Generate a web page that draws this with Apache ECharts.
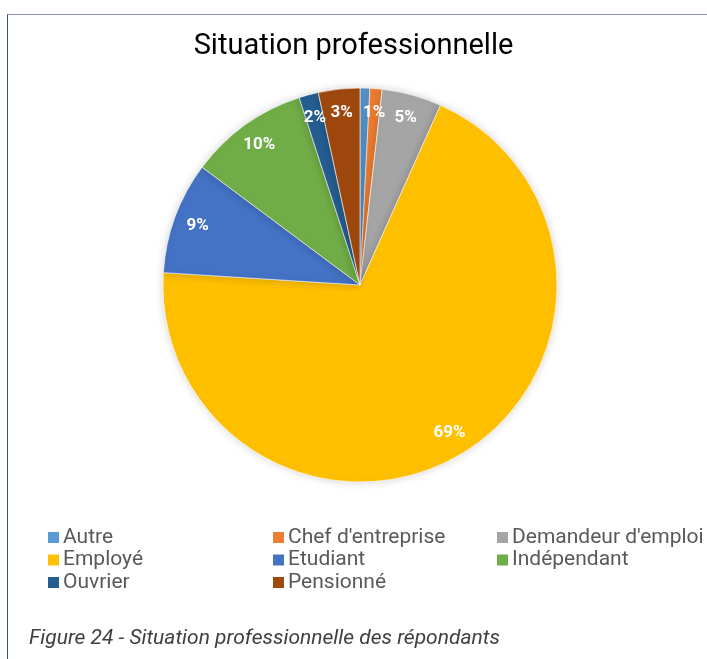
<!DOCTYPE html>
<html>
<head>
<meta charset="utf-8">
<script src="https://cdn.jsdelivr.net/npm/echarts@6/dist/echarts.min.js"></script>
<style>
  html, body { margin: 0; padding: 0; background: #fff; }
  #main { position: absolute; left: 0; top: 0; width: 707px; height: 659px; }
  #frame { position: absolute; left: 7px; top: 14px; width: 700px; height: 645px;
           border-top: 1px solid #8a90c4; border-left: 1px solid #3a4aa8; pointer-events: none; }
</style>
</head>
<body>
<div id="main"></div>
<div id="frame"></div>
<script>
// categories and shares (percent)
var categories = ['Autre', "Chef d'entreprise", "Demandeur d'emploi", 'Employé', 'Etudiant', 'Indépendant', 'Ouvrier', 'Pensionné'];
var shares = [0.8, 1.0, 4.9, 69.3, 9.2, 9.8, 1.6, 3.4];
var colors = ['#5B9BD5', '#ED7D31', '#A5A5A5', '#FFC000', '#4472C4', '#70AD47', '#255E91', '#9E480E'];

var chartDom = document.getElementById('main');
var myChart = echarts.init(chartDom);

var data = categories.map(function (name, i) {
    return { name: name, value: shares[i], itemStyle: { color: colors[i] } };
});

function legendFor(names, left) {
    return {
        orient: 'vertical',
        left: left,
        top: 522,
        itemWidth: 13,
        itemHeight: 13,
        itemGap: 1.5,
        icon: 'rect',
        selectedMode: false,
        data: names,
        textStyle: { fontFamily: 'Roboto', fontSize: 21, color: '#595959', lineHeight: 21, padding: [0, 0, 0, -2] }
    };
}

var option = {
    animation: false,
    title: [{
        text: 'Situation professionnelle',
        left: 'center',
        top: 27,
        textStyle: { fontFamily: 'Roboto', fontSize: 29, fontWeight: 'normal', color: '#000' }
    }, {
        text: 'Figure 24 - Situation professionnelle des répondants',
        left: 24,
        top: 623,
        textStyle: { fontFamily: 'Roboto', fontSize: 21, fontWeight: 'normal', fontStyle: 'italic', color: '#404040' }
    }],
    legend: [
        legendFor(['Autre', 'Employé', 'Ouvrier'], 41),
        legendFor(["Chef d'entreprise", 'Etudiant', 'Pensionné'], 266),
        legendFor(["Demandeur d'emploi", 'Indépendant'], 490)
    ],
    series: [{
        type: 'pie',
        center: [360, 285],
        radius: 197,
        startAngle: 90,
        clockwise: true,
        silent: true,
        label: { show: false },
        labelLine: { show: false },
        itemStyle: { borderColor: '#fff', borderWidth: 0.6, shadowBlur: 10, shadowColor: 'rgba(0,0,0,0.18)' },
        data: data
    }, {
        // transparent ring used only to place the percent labels near the rim
        type: 'pie',
        center: [360, 285],
        radius: [143, 197],
        startAngle: 90,
        clockwise: true,
        silent: true,
        itemStyle: { color: 'rgba(0,0,0,0)' },
        label: {
            show: true,
            position: 'inside',
            color: '#fff',
            fontFamily: 'Roboto',
            fontWeight: 'bold',
            fontSize: 17,
            formatter: function (p) { return Math.round(p.percent) + '%'; }
        },
        labelLine: { show: false },
        data: categories.map(function (name, i) { return { name: name, value: shares[i] }; })
    }]
};

option && myChart.setOption(option);
</script>
</body>
</html>
